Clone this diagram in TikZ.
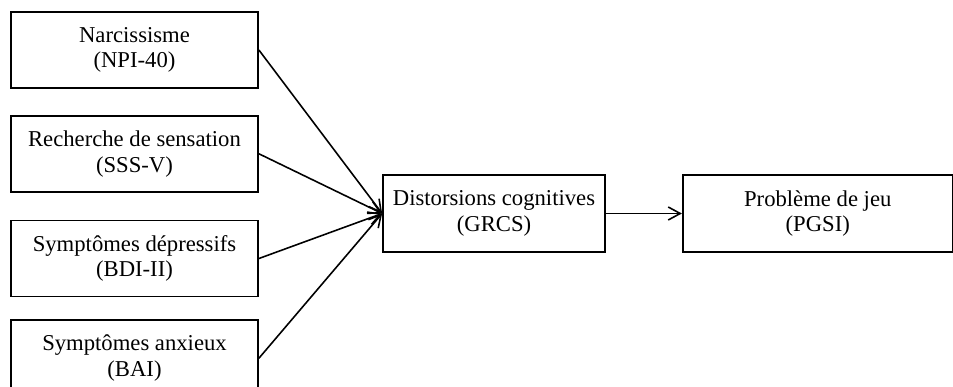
\documentclass[tikz,border=0pt]{standalone}
\usepackage{fontspec}
\setmainfont{Liberation Serif}
\usepackage{tikz}
\usetikzlibrary{arrows.meta, positioning}

\tikzset{
    facteur/.style={draw, line width=1pt, minimum width=4.94cm, minimum height=1.52cm, align=center, inner sep=0pt},
}

\begin{document}
\begin{tikzpicture}[>={Straight Barb[length=2.4mm, width=2.6mm]}, node distance=0.5cm, font=\fontsize{12.9}{14.6}\selectfont]
    \useasboundingbox (0,0) rectangle (19.06,-7.74);

    % Predicteurs
    \node[facteur] (narc) at (2.69,-1.00) {Narcissisme\\(NPI-40)};
    \node[facteur, below=0.52cm of narc] (sens) {Recherche de sensation\\(SSS-V)};
    \node[facteur, below=0.54cm of sens] (depr) {Symptômes dépressifs\\(BDI-II)};
    \node[facteur, below=0.44cm of depr] (anx) {Symptômes anxieux\\(BAI)};

    % Mediateur
    \node[facteur, minimum width=4.44cm, minimum height=1.54cm] (dist) at (9.88,-4.27) {Distorsions cognitives\\(GRCS)};

    % Resultat
    \node[facteur, minimum width=5.40cm, minimum height=1.54cm, right=1.52cm of dist] (jeu) {Problème de jeu\\(PGSI)};

    % Fleches
    \draw[->, line width=0.9pt] (narc.east) -- (dist.west);
    \draw[->, line width=0.9pt] (sens.east) -- (dist.west);
    \draw[->, line width=0.9pt] (depr.east) -- (dist.west);
    \draw[->, line width=0.9pt] (anx.east) -- (dist.west);
    \draw[->, line width=0.9pt] (dist.east) -- (jeu.west);
\end{tikzpicture}
\end{document}
